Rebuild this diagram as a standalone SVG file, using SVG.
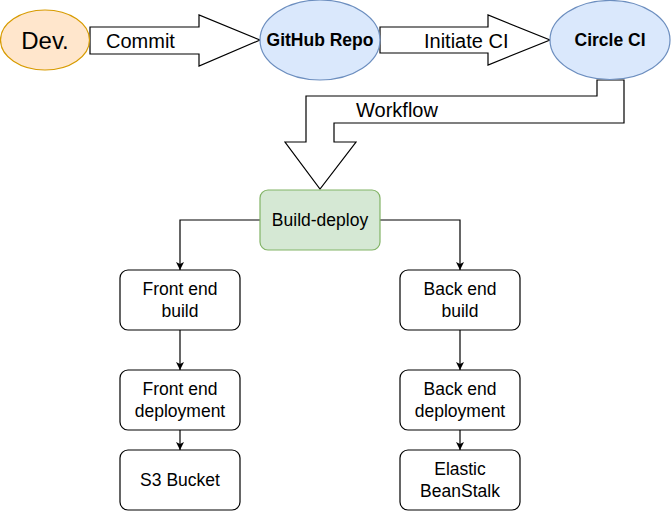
<svg xmlns="http://www.w3.org/2000/svg" width="671" height="512" viewBox="0 0 671 512">
<style>
text{font-family:"Liberation Sans",Arial,sans-serif;fill:#000}
.lbl{font-size:17.5px;text-anchor:middle}
.bold{font-weight:bold}
.box{fill:#fff;stroke:#000;stroke-width:1.2}
.blue{fill:#dae8fc;stroke:#6c8ebf;stroke-width:1.2}
.big{fill:#fff;stroke:#000;stroke-width:1.2}
.edge{fill:none;stroke:#000;stroke-width:1.2}
.arrowtxt{font-size:20px}
</style>
<defs>
<marker id="ah" viewBox="0 0 10 10" refX="10" refY="5" markerWidth="8" markerHeight="8" markerUnits="userSpaceOnUse" orient="auto">
<path d="M0,0 L10,5 L0,10 L2.5,5 Z" fill="#000"/>
</marker>
</defs>
<g id="connectors">
<polygon class="big" points="90,27 199,27 199,15 260,40 199,66 199,54 90,54"/>
<text class="arrowtxt" x="106" y="48">Commit</text>
<polygon class="big" points="380,27 488,27 488,15 550,40 488,65 488,53 380,53"/>
<text class="arrowtxt" x="424" y="48">Initiate CI</text>
<polygon class="big" points="597,80 624,80 624,123 334,123 334,142 356,142 320,189 285,142 306,142 306,96 597,96"/>
<text class="arrowtxt" x="397" y="117" text-anchor="middle">Workflow</text>
<path class="edge" d="M260,220 H180 V270" marker-end="url(#ah)"/>
<path class="edge" d="M380,220 H460 V270" marker-end="url(#ah)"/>
<path class="edge" d="M180,330 V370" marker-end="url(#ah)"/>
<path class="edge" d="M460,330 V370" marker-end="url(#ah)"/>
<path class="edge" d="M180,430 V450" marker-end="url(#ah)"/>
<path class="edge" d="M460,430 V450" marker-end="url(#ah)"/>
</g>
<g id="dev">
<ellipse cx="45" cy="40" rx="44.5" ry="30" fill="#ffe6cc" stroke="#d79b00" stroke-width="1.2"/>
<text x="45" y="49" font-size="24" text-anchor="middle">Dev.</text>
</g>
<g id="github">
<ellipse class="blue" cx="320" cy="40" rx="60" ry="40"/>
<text class="lbl bold" x="320" y="46">GitHub Repo</text>
</g>
<g id="circleci">
<ellipse class="blue" cx="610" cy="40" rx="60" ry="39.5"/>
<text class="lbl bold" x="610" y="46">Circle CI</text>
</g>
<g id="build-deploy">
<rect x="260" y="190" width="120" height="60" rx="8" fill="#d5e8d4" stroke="#82b366" stroke-width="1.2"/>
<text class="lbl" x="320" y="226">Build-deploy</text>
</g>
<g id="fe-build">
<rect class="box" x="120" y="270" width="120" height="60" rx="8"/>
<text class="lbl" x="180" y="295">Front end</text>
<text class="lbl" x="180" y="317">build</text>
</g>
<g id="be-build">
<rect class="box" x="400" y="270" width="120" height="60" rx="8"/>
<text class="lbl" x="460" y="295">Back end</text>
<text class="lbl" x="460" y="317">build</text>
</g>
<g id="fe-deploy">
<rect class="box" x="120" y="370" width="120" height="60" rx="8"/>
<text class="lbl" x="180" y="395">Front end</text>
<text class="lbl" x="180" y="417">deployment</text>
</g>
<g id="be-deploy">
<rect class="box" x="400" y="370" width="120" height="60" rx="8"/>
<text class="lbl" x="460" y="395">Back end</text>
<text class="lbl" x="460" y="417">deployment</text>
</g>
<g id="s3">
<rect class="box" x="120" y="450" width="120" height="60" rx="8"/>
<text class="lbl" x="180" y="486">S3 Bucket</text>
</g>
<g id="beanstalk">
<rect class="box" x="400" y="450" width="120" height="60" rx="8"/>
<text class="lbl" x="460" y="475">Elastic</text>
<text class="lbl" x="460" y="497">BeanStalk</text>
</g>
</svg>
